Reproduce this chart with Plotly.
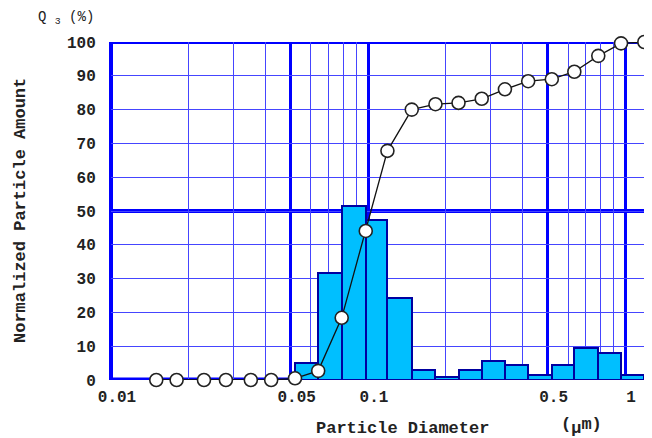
import plotly.graph_objects as go

# ---- data ----
# class boundaries (µm)
bin_edges = [0.015, 0.018, 0.023, 0.028, 0.035, 0.042, 0.052, 0.064, 0.079, 0.098,
             0.119, 0.148, 0.183, 0.225, 0.277, 0.341, 0.420, 0.519, 0.635, 0.787,
             0.965, 1.189]
# cumulative Q3 (%) at each boundary
q3_cum = [0, 0, 0, 0, 0, 0, 0.5, 2.7, 18.4, 44.1, 67.8, 80.0, 81.6, 82.0, 83.2,
          86.0, 88.4, 89.0, 91.2, 95.9, 99.6, 100]
# normalized frequency for each class (between consecutive boundaries)
q3_freq = [0, 0, 0, 0, 0, 0, 4.9, 31.7, 51.6, 47.3, 24.2, 3.0, 1.0, 3.0, 5.6,
           4.3, 1.5, 4.3, 9.4, 7.9, 1.5]

x_tick_vals = [0.01, 0.05, 0.1, 0.5, 1]
x_tick_text = ["0.01", "0.05", "0.1", "0.5", "1"]
x_minor_vals = [0.02, 0.03, 0.04, 0.06, 0.07, 0.08, 0.09,
                0.2, 0.3, 0.4, 0.6, 0.7, 0.8, 0.9]
y_tick_vals = list(range(0, 101, 10))

BLUE = "#0000FF"
THIN = "#4545ff"
FONT = "Liberation Mono"
TXT = "#222222"

lower = bin_edges[:-1]
upper = bin_edges[1:]
widths = [u - l for l, u in zip(lower, upper)]

fig = go.Figure()
fig.add_trace(go.Bar(
    x=lower, y=q3_freq, width=widths, offset=0,
    marker=dict(color="#00BFFF", line=dict(color="#0000A0", width=2)),
    hoverinfo="skip", showlegend=False,
))
fig.add_trace(go.Scatter(
    x=bin_edges, y=q3_cum, mode="lines+markers",
    line=dict(color="#111111", width=1.3),
    marker=dict(size=13, color="white", line=dict(color="#222222", width=1.6)),
    cliponaxis=False, showlegend=False,
))

# thick frame / reference lines
for yv, w in ((50, 4), (100, 4), (0, 5)):
    fig.add_shape(type="line", xref="paper", x0=0, x1=1, yref="y", y0=yv, y1=yv,
                  line=dict(color=BLUE, width=w), layer="below")
fig.add_shape(type="line", xref="paper", x0=0, x1=0, yref="paper", y0=0, y1=1,
              line=dict(color=BLUE, width=4), layer="below")

# the page body adds an 8px offset; the figure is sized to fit the 652x438 window
fig.update_layout(
    width=644, height=430,
    margin=dict(l=103, r=0, t=34, b=58, autoexpand=False),
    paper_bgcolor="white", plot_bgcolor="white",
    bargap=0,
    font=dict(family=FONT, color=TXT),
    xaxis=dict(
        type="log", range=[-2, 0.105],
        tickvals=x_tick_vals, ticktext=x_tick_text,
        showgrid=True, gridcolor=BLUE, gridwidth=3,
        minor=dict(tickvals=x_minor_vals, showgrid=True, gridcolor=THIN, gridwidth=1),
        showline=False,
        ticks="outside", ticklen=2, tickcolor="rgba(0,0,0,0)",
        ticklabelshift=6,
        tickfont=dict(family=FONT, size=16, color=TXT, weight="bold"),
        zeroline=False, automargin=False,
    ),
    yaxis=dict(
        range=[0, 100], tickvals=y_tick_vals,
        showgrid=True, gridcolor=THIN, gridwidth=1,
        showline=False,
        ticks="outside", ticklen=11, tickcolor="rgba(0,0,0,0)",
        tickfont=dict(family=FONT, size=16, color=TXT, weight="bold"),
        zeroline=False, automargin=False,
    ),
    annotations=[
        dict(text="Normalized Particle Amount", xref="paper", yref="paper",
             x=0, y=0.5, xanchor="center", yanchor="middle", xshift=-91,
             textangle=-90, showarrow=False,
             font=dict(family=FONT, size=17, color=TXT, weight="bold")),
        dict(text="Particle Diameter", xref="paper", yref="paper",
             x=0, y=0, xanchor="center", yanchor="middle", xshift=291, yshift=-48,
             showarrow=False,
             font=dict(family=FONT, size=17, color=TXT, weight="bold")),
        dict(text="(<sub><span style='font-size:17px'>µ</span></sub>m)",
             xref="paper", yref="paper",
             x=0, y=0, xanchor="center", yanchor="middle", xshift=470, yshift=-46,
             showarrow=False,
             font=dict(family=FONT, size=17, color=TXT, weight="bold")),
        dict(text="Q <sub>3</sub> (%)", xref="paper", yref="paper",
             x=0, y=1, xanchor="center", yanchor="middle", xshift=-45, yshift=24,
             showarrow=False,
             font=dict(family=FONT, size=14, color=TXT)),
    ],
)

fig.write_html("out.html")
